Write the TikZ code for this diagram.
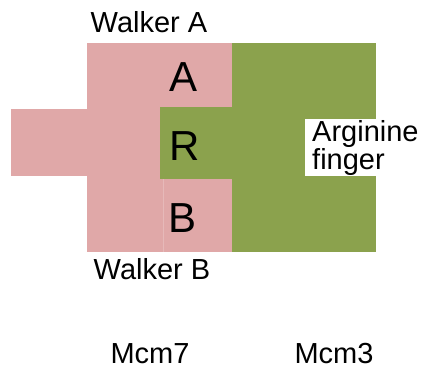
\documentclass[tikz,border=0pt]{standalone}
\usepackage{fontspec}
\setmainfont{Liberation Sans}
\definecolor{mcmpink}{RGB}{224,168,168}
\definecolor{mcmgreen}{RGB}{139,162,77}
\begin{document}
\begin{tikzpicture}[x=1pt,y=-1pt,
  lbl/.style={font=\fontsize{29}{28}\selectfont, inner sep=0pt},
  big/.style={font=\fontsize{42}{44}\selectfont, inner sep=0pt}]
\useasboundingbox (0,0) rectangle (422,369);
% Mcm7 (pink)
\fill[mcmpink] (11,109) rectangle (88,176);
\fill[mcmpink] (87,43) rectangle (233,252);
% Mcm3 (green)
\fill[mcmgreen] (232,43) rectangle (376,252);
\fill[mcmgreen] (160,107) rectangle (233,179);
\draw[mcmpink!80!white, line width=0.6pt] (163.5,179) -- (163.5,252);
% Arginine finger label box
\fill[white] (305,119) rectangle (422,176);
\node[lbl, anchor=north west, align=left] (arg) at (312,120) {Arginine\\finger};
% letters
\node[big] (la) at (184,77) {A};
\node[big] (lr) at (185,146) {R};
\node[big] (lb) at (183,218) {B};
% labels
\node[lbl] (wa) at (149,22) {Walker A};
\node[lbl] (wb) at (152,269) {Walker B};
\node[lbl] (m7) at (150,354) {Mcm7};
\node[lbl] (m3) at (334,354) {Mcm3};
\end{tikzpicture}
\end{document}
